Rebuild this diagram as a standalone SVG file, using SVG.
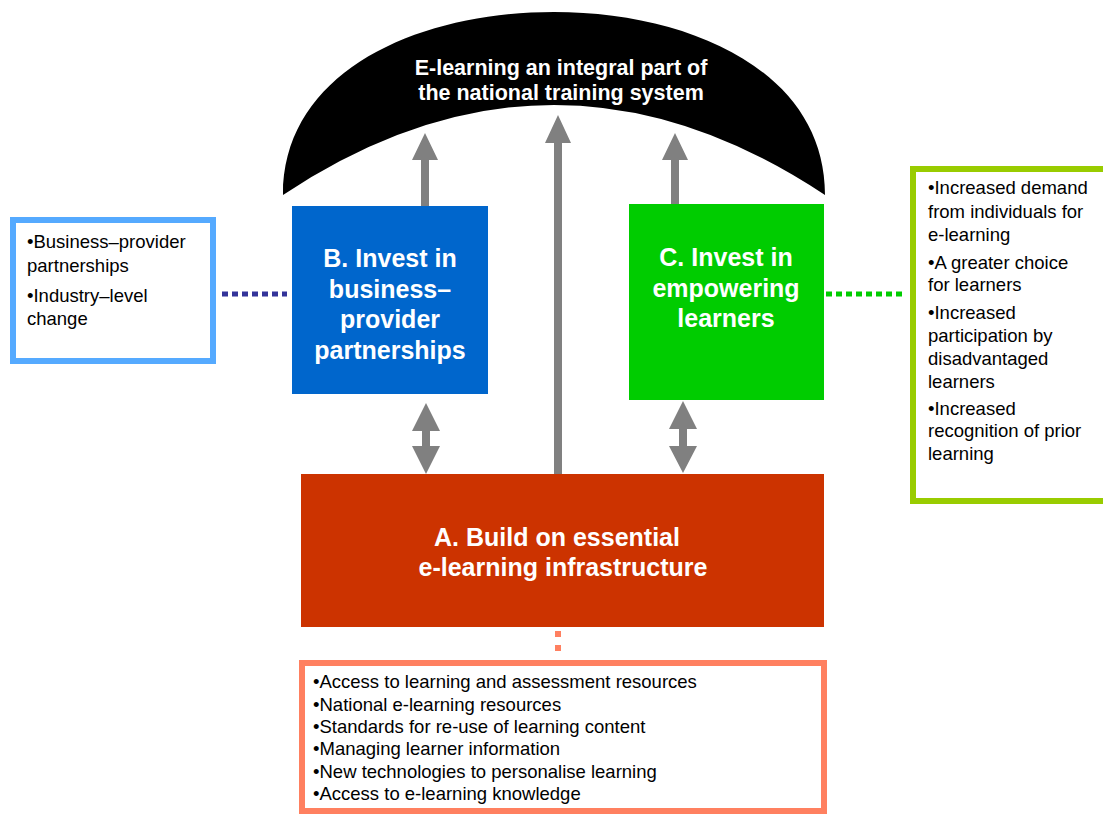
<svg xmlns="http://www.w3.org/2000/svg" width="1103" height="815" viewBox="0 0 1103 815">
<style>
.t{font-family:"Liberation Sans",Arial,sans-serif;font-size:18.5px;fill:#000}
.w{font-family:"Liberation Sans",Arial,sans-serif;font-weight:bold;fill:#fff;text-anchor:middle}
.arr{fill:#808080}
</style>
<rect width="1103" height="815" fill="#fff"/>
<g id="goal">
<path d="M283,195 C283,70 420,12 554,12 C688,12 825,70 825,195 Q554,15 283,195 Z" fill="#000"/>
<text class="w" font-size="21.5" x="561" y="75">E-learning an integral part of</text>
<text class="w" font-size="21.5" x="561" y="100">the national training system</text>
</g>
<g id="connectors">
<path class="arr" d="M421,206 V160 H412 L425,133 L438,160 H429 V206 Z"/>
<path class="arr" d="M554,474 V143 H545 L558,115 L571,143 H562 V474 Z"/>
<path class="arr" d="M671,204 V160 H662 L675,133 L688,160 H679 V204 Z"/>
<path class="arr" d="M426,403 L440,431 H430 V446 H440 L426,474 L412,446 H422 V431 H412 Z"/>
<path class="arr" d="M683,401 L697,429 H687 V446 H697 L683,473 L669,446 H679 V429 H669 Z"/>
<line x1="222" y1="294" x2="287" y2="294" stroke="#333399" stroke-width="5" stroke-dasharray="6,4"/>
<line x1="826" y1="294" x2="902" y2="294" stroke="#00CC00" stroke-width="5" stroke-dasharray="6,4"/>
<line x1="558" y1="631" x2="558" y2="657" stroke="#FF8060" stroke-width="6" stroke-dasharray="6,8"/>
</g>
<g id="nodeB">
<rect x="292" y="206" width="196" height="188" fill="#0066CC"/>
<text class="w" font-size="25" x="390" y="267">B. Invest in</text>
<text class="w" font-size="25" x="390" y="298">business–</text>
<text class="w" font-size="25" x="390" y="328">provider</text>
<text class="w" font-size="25" x="390" y="359">partnerships</text>
</g>
<g id="nodeC">
<rect x="629" y="204" width="195" height="196" fill="#00CC00"/>
<text class="w" font-size="25" x="726" y="266">C. Invest in</text>
<text class="w" font-size="25" x="726" y="297">empowering</text>
<text class="w" font-size="25" x="726" y="327">learners</text>
</g>
<g id="nodeA">
<rect x="301" y="474" width="523" height="153" fill="#CC3300"/>
<text class="w" font-size="25" x="557" y="546">A. Build on essential</text>
<text class="w" font-size="25" x="563" y="576">e-learning infrastructure</text>
</g>
<g id="boxB">
<rect x="13" y="220" width="200" height="141" fill="#fff" stroke="#55AAFF" stroke-width="6"/>
<text class="t" x="27" y="248">•Business–provider</text>
<text class="t" x="27" y="272">partnerships</text>
<text class="t" x="27" y="302">•Industry–level</text>
<text class="t" x="27" y="325">change</text>
</g>
<g id="boxC">
<rect x="913" y="169" width="200" height="332" fill="#fff" stroke="#99CC00" stroke-width="6"/>
<text class="t" x="928" y="194">•Increased demand</text>
<text class="t" x="928" y="218">from individuals for</text>
<text class="t" x="928" y="241">e-learning</text>
<text class="t" x="928" y="269">•A greater choice</text>
<text class="t" x="928" y="291">for learners</text>
<text class="t" x="928" y="319">•Increased</text>
<text class="t" x="928" y="342">participation by</text>
<text class="t" x="928" y="365">disadvantaged</text>
<text class="t" x="928" y="388">learners</text>
<text class="t" x="928" y="415">•Increased</text>
<text class="t" x="928" y="437">recognition of prior</text>
<text class="t" x="928" y="460">learning</text>
</g>
<g id="boxA">
<rect x="302" y="663" width="522" height="148" fill="#fff" stroke="#FF8060" stroke-width="6"/>
<text class="t" x="313" y="688">•Access to learning and assessment resources</text>
<text class="t" x="313" y="711">•National e-learning resources</text>
<text class="t" x="313" y="733">•Standards for re-use of learning content</text>
<text class="t" x="313" y="755">•Managing learner information</text>
<text class="t" x="313" y="778">•New technologies to personalise learning</text>
<text class="t" x="313" y="800">•Access to e-learning knowledge</text>
</g>
</svg>
